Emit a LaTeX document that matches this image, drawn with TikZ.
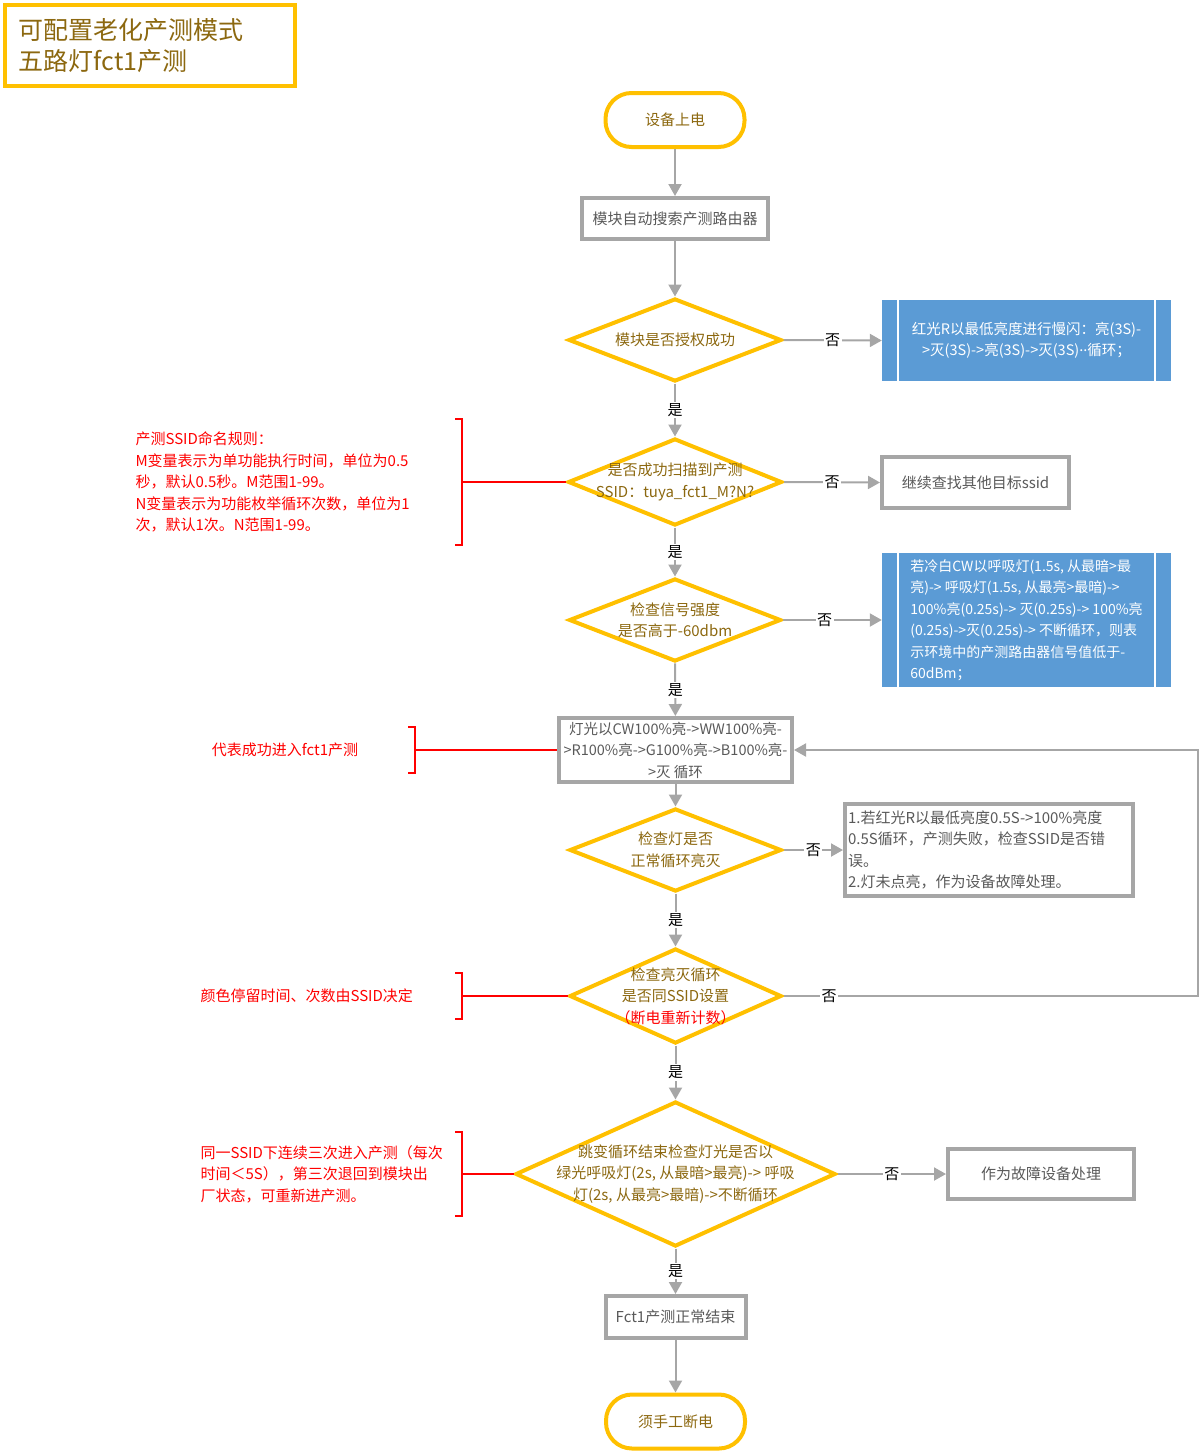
\documentclass[tikz,border=0pt]{standalone}
\usepackage{fontspec}
\setmainfont{Noto Sans CJK SC}
\usepackage{xcolor}
\usetikzlibrary{shapes.geometric, arrows.meta, calc}
\definecolor{ygold}{RGB}{255,192,0}
\definecolor{goldtext}{RGB}{140,104,16}
\definecolor{linegray}{RGB}{166,166,166}
\definecolor{textgray}{RGB}{89,89,89}
\definecolor{procblue}{RGB}{91,155,213}

\begin{document}
\begin{tikzpicture}[x=1pt, y=-1pt,
    txt/.style={font=\fontsize{15}{21.5}\selectfont},
    term/.style={txt, draw=ygold, line width=4pt, rounded corners=26pt, text=goldtext, minimum width=139pt, minimum height=54pt},
    box/.style={txt, draw=linegray, line width=4pt, text=textgray, align=center},
    dec/.style={diamond, draw=ygold, line width=4pt, inner sep=0pt},
    dectext/.style={txt, text=goldtext, align=center},
    proc/.style={font=\fontsize{14.5}{21.5}\selectfont, fill=procblue, text=white},
    note/.style={txt, text=red, align=left},
    flow/.style={draw=linegray, line width=2pt, -{Triangle[length=12pt, width=13pt]}},
    redline/.style={draw=red, line width=2pt},
    lab/.style={font=\fontsize{15}{18}\selectfont, fill=white, inner sep=1.5pt}]
    \useasboundingbox (0,0) rectangle (1200,1454);

    \node[draw=ygold, line width=4pt, text=goldtext, font=\fontsize{25}{31}\selectfont, align=left,
          text width=262pt, inner xsep=14pt, minimum height=81pt] (title) at (150,45.5)
          {可配置老化产测模式\\五路灯fct1产测};

    \node[term] (start) at (675,120) {设备上电};
    \node[box, minimum width=186pt, minimum height=41pt] (search) at (675,218.5) {模块自动搜索产测路由器};

    \node[dec, minimum width=213pt, minimum height=83pt] (d1) at (675,340) {};
    \node[dectext] (d1t) at (d1) {模块是否授权成功};
    \node[proc, minimum width=289pt, minimum height=81pt, text width=252pt, align=center] (fail1) at (1026.5,340.5)
          {红光R以最低亮度进行慢闪：亮(3S)-\\>灭(3S)->亮(3S)->灭(3S)\raisebox{0.3em}{..}循环；};

    \node[dec, minimum width=214pt, minimum height=87pt] (d2) at (675,482) {};
    \node[dectext] (d2t) at (d2) {是否成功扫描到产测\\SSID：tuya\_fct1\_M?N?};
    \node[box, minimum width=187pt, minimum height=51pt] (fail2) at (975.5,482.5) {继续查找其他目标ssid};

    \node[dec, minimum width=212pt, minimum height=83pt] (d3) at (675,620) {};
    \node[dectext] (d3t) at (d3) {检查信号强度\\是否高于-60dbm};
    \node[proc, font=\fontsize{14}{21.5}\selectfont, minimum width=289pt, minimum height=134pt, align=left] (fail3) at (1026.5,620)
          {若冷白CW以呼吸灯(1.5s, 从最暗>最\\亮)-> 呼吸灯(1.5s, 从最亮>最暗)->\\100\%亮(0.25s)-> 灭(0.25s)-> 100\%亮\\(0.25s)->灭(0.25s)-> 不断循环，则表\\示环境中的产测路由器信号值低于-\\60dBm；};

    \node[box, font=\fontsize{14.5}{21.5}\selectfont, minimum width=233pt, minimum height=64pt, inner sep=1pt] (lamp) at (675.5,750)
          {灯光以CW100\%亮->WW100\%亮-\\>R100\%亮->G100\%亮->B100\%亮-\\>灭 循环};

    \node[dec, minimum width=212pt, minimum height=83pt] (d4) at (675.5,850) {};
    \node[dectext] (d4t) at (d4) {检查灯是否\\正常循环亮灭};
    \node[box, minimum width=288pt, minimum height=92pt, text width=282pt, inner xsep=3pt, align=left] (fail4) at (989,850)
          {1.若红光R以最低亮度0.5S->100\%亮度\\0.5S循环，产测失败，检查SSID是否错\\误。\\2.灯未点亮，作为设备故障处理。};

    \node[dec, minimum width=212pt, minimum height=95pt] (d5) at (675.5,996) {};
    \node[dectext] (d5t) at (d5) {检查亮灭循环\\是否同SSID设置\\{\color{red}（断电重新计数）}};

    \node[dec, minimum width=320pt, minimum height=145pt] (d6) at (675.5,1174) {};
    \node[dectext] (d6t) at (d6) {跳变循环结束检查灯光是否以\\绿光呼吸灯(2s, 从最暗>最亮)-> 呼吸\\灯(2s, 从最亮>最暗)->不断循环};
    \node[box, minimum width=186pt, minimum height=50pt] (fault) at (1041,1174) {作为故障设备处理};

    \node[box, minimum width=140pt, minimum height=42pt] (ok) at (675.5,1317) {Fct1产测正常结束};
    \node[term] (stop) at (675.5,1421.5) {须手工断电};

    \foreach \b in {fail1, fail3} {
        \draw[white, line width=2pt] ([xshift=16pt]\b.north west) -- ([xshift=16pt]\b.south west);
        \draw[white, line width=2pt] ([xshift=-16pt]\b.north east) -- ([xshift=-16pt]\b.south east);
    }

    \draw[flow] (start) -- (search);
    \draw[flow] (search) -- (d1);
    \draw[flow] (d1) -- node[lab] {是} (d2);
    \draw[flow] (d2) -- node[lab] {是} (d3);
    \draw[flow] (d3) -- node[lab] {是} (lamp);
    \draw[flow] (lamp) -- (d4);
    \draw[flow] (d4) -- node[lab] {是} (d5);
    \draw[flow] (d5) -- node[lab] {是} (d6);
    \draw[flow] (d6) -- node[lab] {是} (ok);
    \draw[flow] (ok) -- (stop);
    \draw[flow] (d1.east) -- node[lab] {否} (fail1.west);
    \draw[flow] (d2.east) -- node[lab] {否} (fail2.west);
    \draw[flow] (d3.east) -- node[lab, pos=0.42] {否} (fail3.west);
    \draw[flow] (d4.east) -- node[lab] {否} (fail4.west);
    \draw[flow] (d6.east) -- node[lab] {否} (fault.west);
    \coordinate (loop) at (1198,996);
    \draw[flow] (d5.east) -- node[lab, pos=0.11] {否} (loop) |- (lamp.east);

    \node[note, anchor=west] (r1) at (132,482)
          {产测SSID命名规则：\\M变量表示为单功能执行时间，单位为0.5\\秒，默认0.5秒。M范围1-99。\\N变量表示为功能枚举循环次数，单位为1\\次，默认1次。N范围1-99。};
    \node[note] (r2) at (285,750) {代表成功进入fct1产测};
    \node[note, anchor=west] (r3) at (197,996) {颜色停留时间、次数由SSID决定};
    \node[note, anchor=west] (r4) at (197,1174)
          {同一SSID下连续三次进入产测（每次\\时间＜5S），第三次退回到模块出\\厂状态，可重新进产测。};

    \coordinate (k1) at (462,482);
    \coordinate (k2) at (415,750);
    \coordinate (k3) at (462,996);
    \coordinate (k4) at (462,1174);
    \foreach \k/\h/\t in {k1/63/d2, k2/23/lamp, k3/23/d5, k4/42/d6} {
        \draw[redline] ($(\k)+(-7,-\h)$) -| ($(\k)+(0,\h)$) -- ++(-7,0);
        \draw[redline] (\k) -- (\t.west);
    }
\end{tikzpicture}
\end{document}
